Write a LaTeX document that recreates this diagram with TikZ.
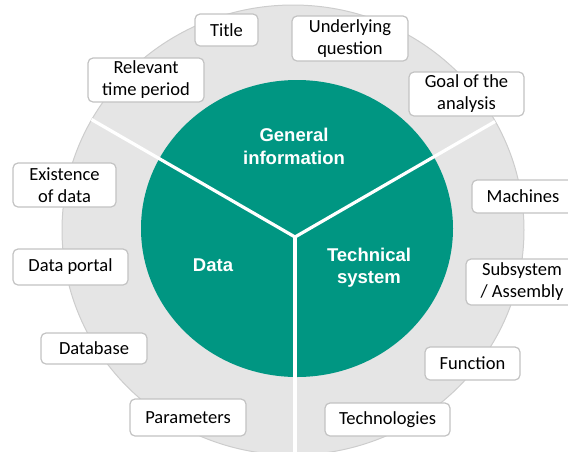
\documentclass[tikz,border=0pt]{standalone}
\usepackage{fontspec}
\setmainfont{Carlito}
\newfontfamily\headfont{Liberation Sans}
\definecolor{teal1}{RGB}{0,150,130}
\definecolor{ringgray}{RGB}{229,229,229}
\definecolor{ringedge}{RGB}{205,205,205}
\definecolor{boxedge}{RGB}{195,195,195}
\begin{document}
\begin{tikzpicture}[x=1pt,y=-1pt,
  item/.style={draw=boxedge, line width=1.2pt, fill=white, rounded corners=5pt,
    align=center, inner sep=0pt, font=\fontsize{18.5}{22}\selectfont},
  head/.style={text=white, align=center, font=\headfont\bfseries\fontsize{18.5}{22.5}\selectfont},
  divider/.style={white, line width=3.2pt}]
\useasboundingbox (0,0) rectangle (568,451);
% rings
\fill[ringgray, draw=ringedge, line width=1pt] (293,230) ellipse [x radius=231, y radius=225];
\fill[teal1] (297,228.5) ellipse [x radius=156, y radius=148.5];
% dividers
\coordinate (j) at (295,237);
\coordinate (eul) at (91.5,119.5);
\coordinate (eur) at (495,121.5);
\coordinate (ed) at (295,455);
\draw[divider] (j) -- (eul);
\draw[divider] (j) -- (eur);
\draw[divider] (j) -- (ed);
% sector labels
\node[head] (gen) at (294,146.5) {General\\information};
\node[head] (dat) at (213,265) {Data};
\node[head] (tec) at (369,267.5) {Technical\\system};
% boxes
\node[item, minimum width=63pt, minimum height=32pt] (title) at (226.5,30) {Title};
\node[item, minimum width=116pt, minimum height=45pt] (uq) at (350,38.5) {Underlying\\question};
\node[item, minimum width=116pt, minimum height=44pt] (rtp) at (146,80) {Relevant\\time period};
\node[item, minimum width=115pt, minimum height=44pt] (goal) at (466.5,94) {Goal of the\\analysis};
\node[item, minimum width=103pt, minimum height=44pt] (exist) at (64.5,185) {Existence\\of data};
\node[item, minimum width=115pt, minimum height=36pt] (portal) at (70.5,267) {Data portal};
\node[item, minimum width=106pt, minimum height=31pt] (db) at (94,348.5) {Database};
\node[item, minimum width=116pt, minimum height=37pt] (par) at (188,417.5) {Parameters};
\node[item, minimum width=125pt, minimum height=33pt] (techn) at (387.5,419.5) {Technologies};
\node[item, minimum width=95pt, minimum height=33pt] (func) at (472.5,363.5) {Function};
\node[item, minimum width=102pt, minimum height=33pt] (mach) at (523,196.5) {Machines};
\node[item, minimum width=112pt, minimum height=46pt] (sub) at (522,282) {Subsystem\\/ Assembly};
\end{tikzpicture}
\end{document}
